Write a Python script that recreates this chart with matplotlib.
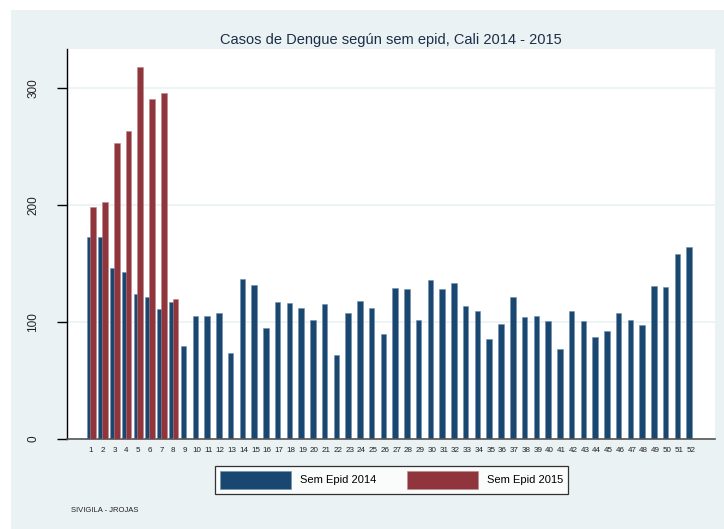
import matplotlib
matplotlib.use("Agg")
import matplotlib.pyplot as plt
import numpy as np
from matplotlib.patches import Rectangle, Patch

weeks = list(range(1, 53))
cases_2014 = [173, 173, 146, 143, 124, 121, 111, 117, 79, 105,
              105, 108, 73, 137, 132, 95, 117, 116, 112, 102,
              115, 72, 108, 118, 112, 90, 129, 128, 102, 136,
              128, 133, 114, 109, 85, 98, 121, 104, 105, 101,
              77, 109, 101, 87, 92, 108, 102, 97, 131, 130,
              158, 164]
weeks_2015 = [1, 2, 3, 4, 5, 6, 7, 8]
cases_2015 = [198, 203, 253, 263, 318, 291, 296, 120]
yticks = [0, 100, 200, 300]

title = "Casos de Dengue según sem epid, Cali 2014 - 2015"
labels = ["Sem Epid 2014", "Sem Epid 2015"]
footer = "SIVIGILA - JROJAS"

BLUE = "#1a476f"
RED = "#90353b"
BG = "#eaf2f3"

plt.rcParams['font.family'] = ['Liberation Sans', 'DejaVu Sans']

W, H = 724, 529
fig = plt.figure(figsize=(W / 100, H / 100), dpi=100)
fig.patch.set_facecolor("white")
fig.add_artist(Rectangle((11 / W, 0), 1 - 11 / W, 1 - 10 / H,
                         transform=fig.transFigure, facecolor=BG,
                         edgecolor="none", zorder=0))

ax = fig.add_axes([67 / W, 1 - 438.7 / H, (715 - 67) / W, (438.7 - 49) / H])
ax.set_facecolor("white")

x14 = np.array(weeks, dtype=float)
x15 = np.array(weeks_2015, dtype=float)
bw = 0.47
ax.bar(x14 - 0.13, cases_2014, width=bw, color=BLUE, edgecolor="#6f8fae",
       linewidth=0.4, zorder=2)
ax.bar(x15 + 0.19, cases_2015, width=bw, color=RED, edgecolor="#b98a8d",
       linewidth=0.4, zorder=3)

ax.set_xlim(-1.04, 54.07)
ax.set_ylim(0, 333.6)
ax.set_yticks(yticks)
ax.set_yticklabels([str(v) for v in yticks], rotation=90, va="center",
                   fontsize=8.5, color="#222222")
ax.set_xticks(weeks)
ax.set_xticklabels([str(w) for w in weeks], fontsize=5.8, color="#222222")
ax.tick_params(axis="x", length=0, pad=6)
ax.tick_params(axis="y", length=7, width=1.0, pad=13, color="black")

ax.grid(axis="y", color=BG, linewidth=1.2, zorder=1)
ax.set_axisbelow(True)
for s in ["top", "right"]:
    ax.spines[s].set_visible(False)
ax.spines["left"].set_color("black")
ax.spines["left"].set_linewidth(1.0)
ax.spines["bottom"].set_color("#555555")
ax.spines["bottom"].set_linewidth(1.2)

fig.text(391 / W, 1 - 40 / H, title, ha="center", va="center",
         fontsize=10.5, color="#1e2d47")

handles = [Patch(facecolor=BLUE, edgecolor="#6f8fae", linewidth=0.4),
           Patch(facecolor=RED, edgecolor="#b98a8d", linewidth=0.4)]
leg = fig.legend(handles, labels, loc="center",
                 bbox_to_anchor=(391.5 / W, 1 - 480 / H), ncol=2,
                 fontsize=8, handlelength=6.4, handleheight=2.2,
                 handletextpad=0.8, columnspacing=2.8, borderpad=0.45,
                 fancybox=False, frameon=True)
leg.get_frame().set_edgecolor("black")
leg.get_frame().set_linewidth(0.9)
leg.get_frame().set_facecolor("white")

fig.text(71 / W, 1 - 510 / H, footer, ha="left", va="center",
         fontsize=5.5, color="#222222")

fig.savefig("out.png", dpi=100, facecolor=fig.get_facecolor())
